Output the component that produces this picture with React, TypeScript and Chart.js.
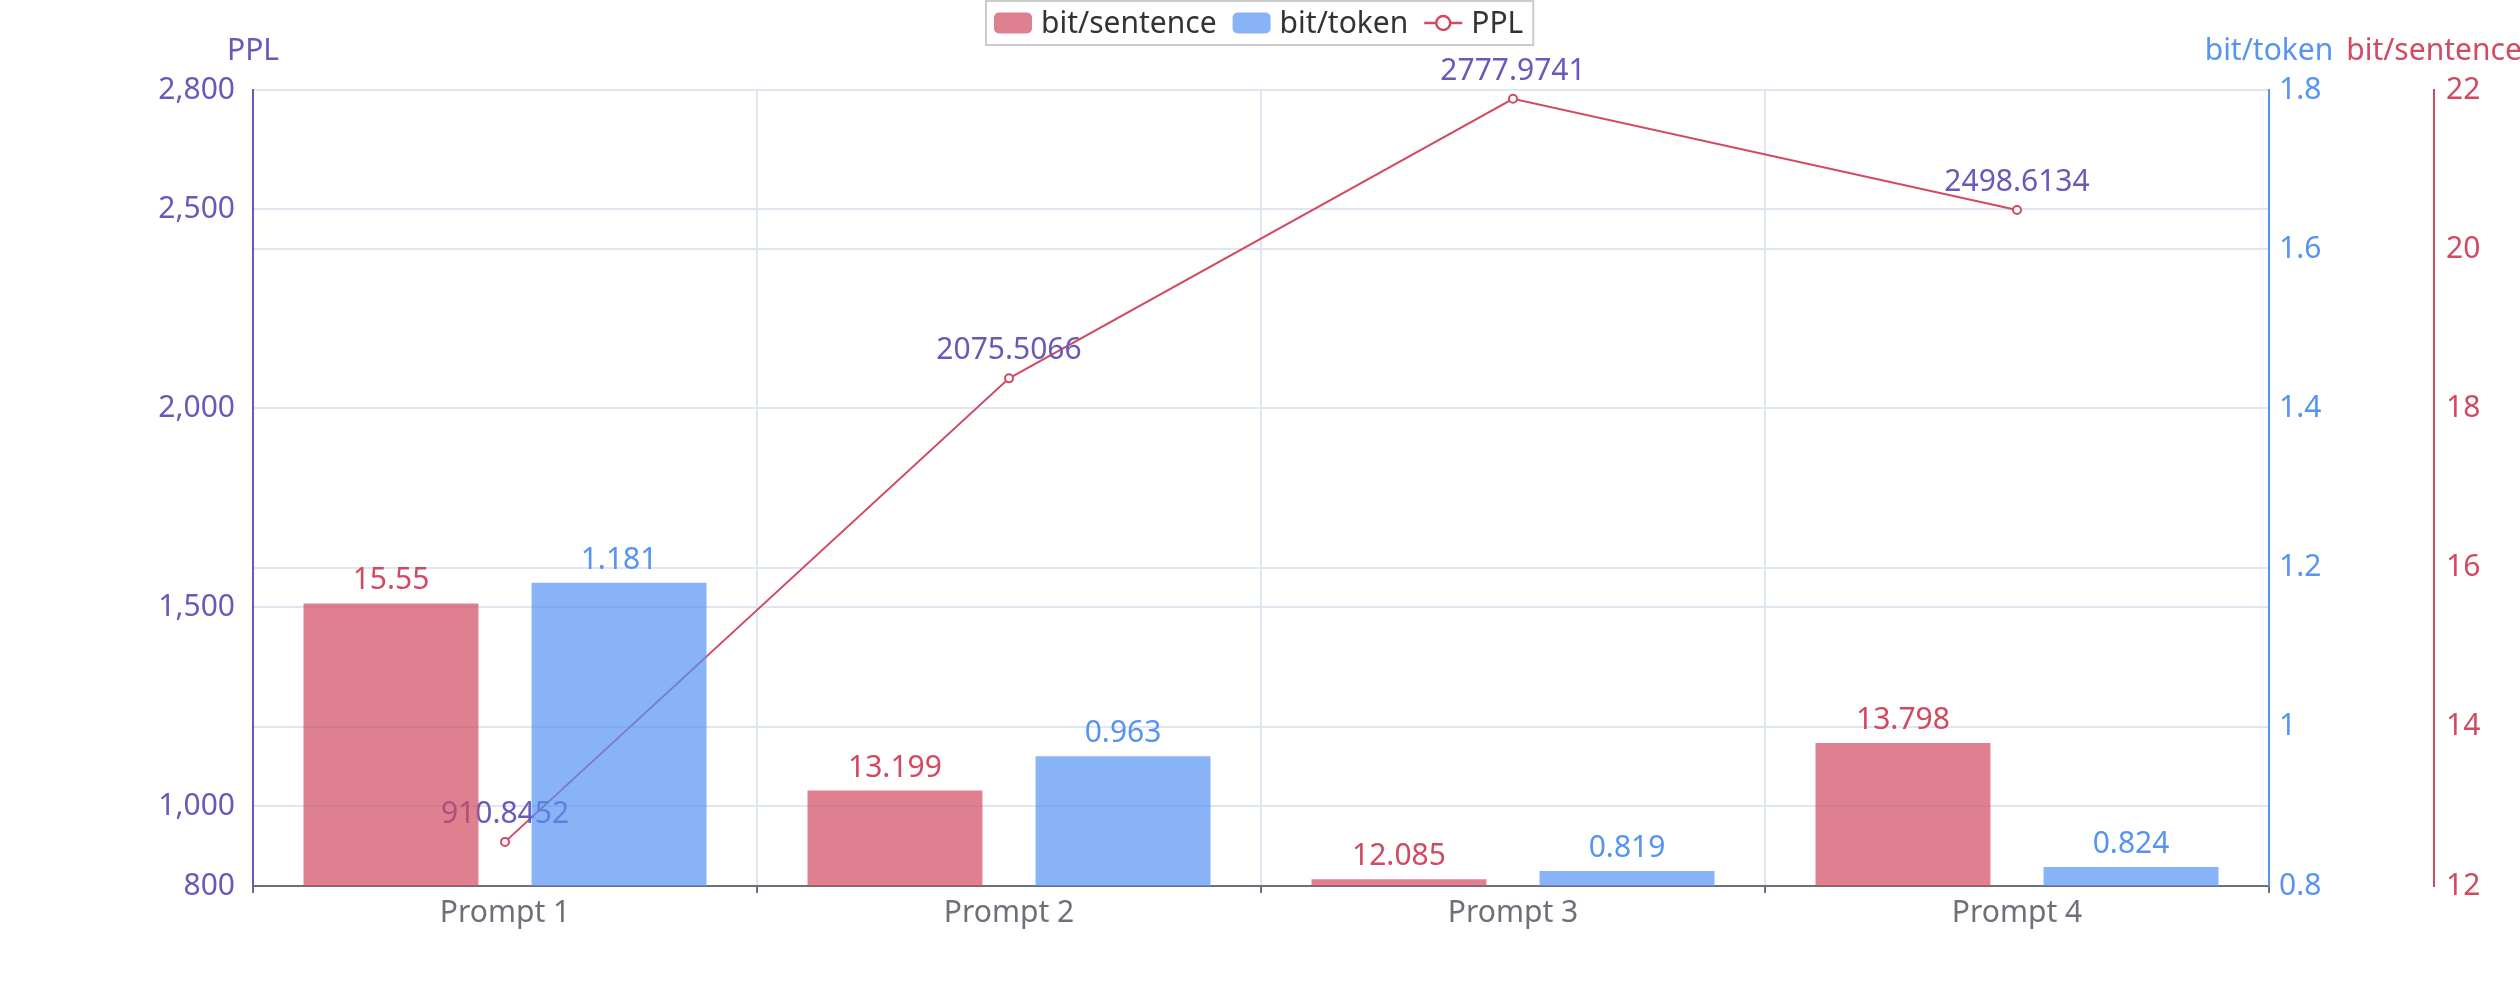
import React, { useEffect, useRef } from 'react';
import { Chart, registerables } from 'chart.js';

Chart.register(...registerables);

const categories = ['Prompt 1', 'Prompt 2', 'Prompt 3', 'Prompt 4'];
const bitSentence = [15.55, 13.199, 12.085, 13.798];
const bitToken = [1.181, 0.963, 0.819, 0.824];
const ppl = [910.8452, 2075.5066, 2777.9741, 2498.6134];

const pplTicks = [800, 1000, 1500, 2000, 2500, 2800];
const tokenTicks = [0.8, 1, 1.2, 1.4, 1.6, 1.8];
const sentenceTicks = [12, 14, 16, 18, 20, 22];

const RED = '#d14a61';
const BLUE = '#5793f3';
const PURPLE = '#675bba';
const GRID = '#e0e6f1';
const AXIS = '#6e7079';
const FONT = '"Noto Sans", sans-serif';
const FONT_SIZE = 30;

// label colour per dataset index
const labelColors = [RED, BLUE, PURPLE];

const valueLabels = {
  id: 'valueLabels',
  afterDatasetDraw(chart: any, args: any) {
    const ds = chart.data.datasets[args.index];
    const meta = args.meta;
    const ctx = chart.ctx;
    ctx.save();
    ctx.font = `${FONT_SIZE}px ${FONT}`;
    ctx.textAlign = 'center';
    ctx.textBaseline = 'alphabetic';
    ctx.fillStyle = labelColors[args.index];
    const offset = meta.type === 'line' ? 19 : 14;
    meta.data.forEach((el: any, i: number) => {
      ctx.fillText(String(ds.data[i]), el.x, el.y - offset);
    });
    ctx.restore();
  },
};

const legendAndTitles = {
  id: 'legendAndTitles',
  afterDraw(chart: any) {
    const ctx = chart.ctx;
    ctx.save();
    ctx.font = `${FONT_SIZE}px ${FONT}`;

    // axis titles
    ctx.textAlign = 'center';
    ctx.textBaseline = 'alphabetic';
    ctx.fillStyle = PURPLE;
    ctx.fillText('PPL', chart.chartArea.left, 60);
    ctx.fillStyle = BLUE;
    ctx.fillText('bit/token', chart.scales.y1.left, 60);
    ctx.fillStyle = RED;
    ctx.fillText('bit/sentence', chart.scales.y2.left, 60);

    // legend
    const items = chart.data.datasets.map((ds: any) => ({
      label: ds.label,
      type: ds.type || 'bar',
      color: ds.type === 'line' ? ds.borderColor : ds.backgroundColor,
      width: ctx.measureText(ds.label).width,
    }));
    const sym = 38;
    const symGap = 9;
    const itemGap = 16;
    const padL = 8;
    const padR = 10;
    let total = padL + padR + itemGap * (items.length - 1);
    items.forEach((it: any) => (total += sym + symGap + it.width));
    const boxX = Math.round((chart.width - total) / 2);
    const boxY = 1;
    const boxH = 44;
    const cy = boxY + boxH / 2;

    ctx.strokeStyle = '#ccc';
    ctx.lineWidth = 2;
    ctx.strokeRect(boxX, boxY, total, boxH);

    let x = boxX + padL;
    ctx.textAlign = 'left';
    ctx.textBaseline = 'middle';
    items.forEach((it: any) => {
      if (it.type === 'line') {
        ctx.strokeStyle = it.color;
        ctx.lineWidth = 2.5;
        ctx.beginPath();
        ctx.moveTo(x, cy);
        ctx.lineTo(x + sym, cy);
        ctx.stroke();
        ctx.beginPath();
        ctx.arc(x + sym / 2, cy, 7, 0, Math.PI * 2);
        ctx.fillStyle = '#fff';
        ctx.fill();
        ctx.stroke();
      } else {
        ctx.fillStyle = it.color;
        ctx.beginPath();
        ctx.roundRect(x, cy - 10.5, sym, 21, 5);
        ctx.fill();
      }
      x += sym + symGap;
      ctx.fillStyle = '#333';
      ctx.fillText(it.label, x, cy + 1);
      x += it.width + itemGap;
    });
    ctx.restore();
  },
};

const tickFont = { family: FONT, size: FONT_SIZE };

const App: React.FC = () => {
  const canvasRef = useRef<HTMLCanvasElement>(null);
  const chartRef = useRef<Chart | null>(null);

  useEffect(() => {
    document.body.style.margin = '0';
    if (!canvasRef.current) return;
    if (chartRef.current) chartRef.current.destroy();

    chartRef.current = new Chart(canvasRef.current, {
      type: 'bar',
      data: {
        labels: categories,
        datasets: [
          {
            type: 'bar',
            label: 'bit/sentence',
            data: bitSentence,
            yAxisID: 'y2',
            backgroundColor: 'rgba(209, 74, 97, 0.7)',
            borderWidth: 0,
            categoryPercentage: 0.905,
            barPercentage: 0.767,
            order: 1,
          },
          {
            type: 'bar',
            label: 'bit/token',
            data: bitToken,
            yAxisID: 'y1',
            backgroundColor: 'rgba(87, 147, 243, 0.7)',
            borderWidth: 0,
            categoryPercentage: 0.905,
            barPercentage: 0.767,
            order: 2,
          },
          {
            type: 'line',
            label: 'PPL',
            data: ppl,
            yAxisID: 'y',
            borderColor: RED,
            borderWidth: 2,
            pointRadius: 4,
            pointBorderWidth: 2,
            pointBackgroundColor: '#fff',
            pointBorderColor: RED,
            tension: 0,
            order: 3,
          },
        ] as any,
      },
      options: {
        responsive: true,
        maintainAspectRatio: false,
        animation: false,
        devicePixelRatio: 1,
        layout: { padding: { top: 90, left: 0, right: 0, bottom: 0 } },
        plugins: {
          legend: { display: false },
          tooltip: { enabled: false },
        },
        scales: {
          x: {
            offset: true,
            grid: {
              offset: true,
              color: (c: any) => (c.index === 0 ? 'rgba(0,0,0,0)' : GRID),
              lineWidth: 2,
              drawTicks: true,
              tickLength: 7,
              tickColor: AXIS,
              tickWidth: 2,
            },
            border: { color: AXIS, width: 2 },
            ticks: { color: AXIS, font: tickFont, padding: 2 },
            afterFit: (s: any) => {
              s.height = 104;
            },
          },
          y: {
            position: 'left',
            min: 800,
            max: 2800,
            afterBuildTicks: (s: any) => {
              s.ticks = pplTicks.map((value) => ({ value }));
            },
            grid: {
              color: (c: any) => (c.index === 0 ? 'rgba(0,0,0,0)' : GRID),
              lineWidth: 2,
              drawTicks: false,
            },
            border: { color: PURPLE, width: 2 },
            ticks: {
              color: PURPLE,
              font: tickFont,
              padding: 18,
              autoSkip: false,
              callback: (v: any) => Number(v).toLocaleString('en-US'),
            },
            afterFit: (s: any) => {
              s.width = 253;
            },
          },
          y1: {
            position: 'right',
            min: 0.8,
            max: 1.8,
            afterBuildTicks: (s: any) => {
              s.ticks = tokenTicks.map((value) => ({ value }));
            },
            grid: {
              color: (c: any) => (c.index === 0 ? 'rgba(0,0,0,0)' : GRID),
              lineWidth: 2,
              drawTicks: false,
            },
            border: { color: BLUE, width: 2 },
            ticks: {
              color: BLUE,
              font: tickFont,
              padding: 10,
              autoSkip: false,
              callback: (v: any) => String(v),
            },
            afterFit: (s: any) => {
              s.width = 165;
            },
          },
          y2: {
            position: 'right',
            min: 12,
            max: 22,
            afterBuildTicks: (s: any) => {
              s.ticks = sentenceTicks.map((value) => ({ value }));
            },
            grid: { drawOnChartArea: false, drawTicks: false },
            border: { color: RED, width: 2 },
            ticks: {
              color: RED,
              font: tickFont,
              padding: 12,
              autoSkip: false,
              callback: (v: any) => String(v),
            },
            afterFit: (s: any) => {
              s.width = 86;
            },
          },
        },
      } as any,
      plugins: [valueLabels, legendAndTitles],
    });

    return () => {
      if (chartRef.current) {
        chartRef.current.destroy();
        chartRef.current = null;
      }
    };
  }, []);

  return (
    <div style={{ position: 'relative', width: 2520, height: 990 }}>
      <canvas ref={canvasRef} />
    </div>
  );
};

export default App;
